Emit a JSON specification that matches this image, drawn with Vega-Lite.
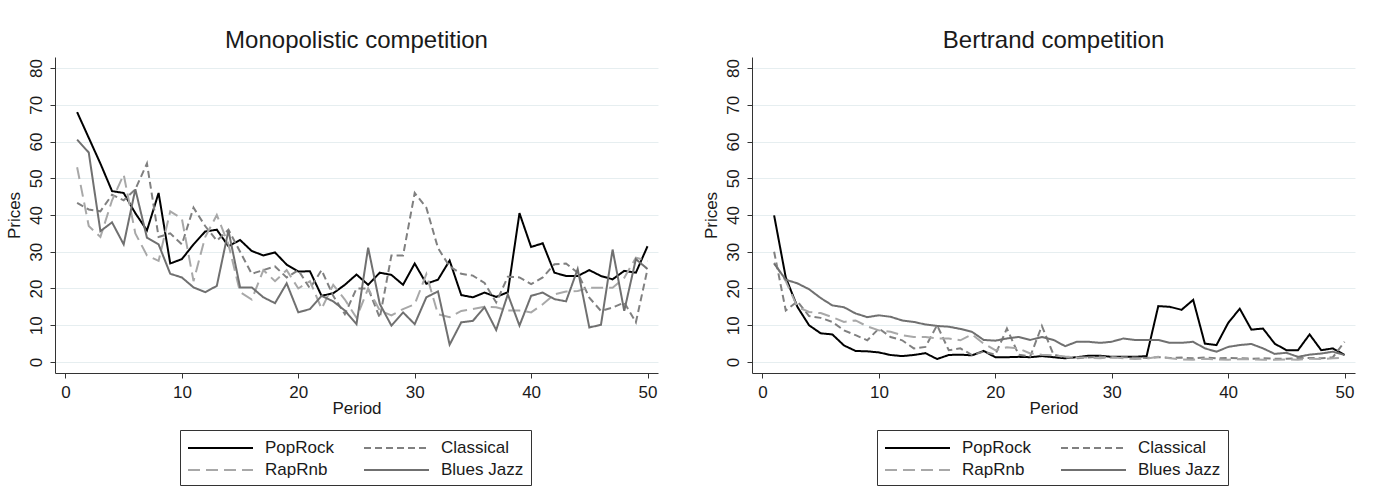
{
  "$schema": "https://vega.github.io/schema/vega-lite/v6.json",
  "background": "white",
  "padding": {"left": 5, "top": 29, "right": 5, "bottom": 5},
  "data": {"values": [
    {"m":"M","period":1,"PopRock":68,"Classical":43.3,"RapRnb":53,"Blues Jazz":60.5},
    {"m":"M","period":2,"PopRock":61,"Classical":41.5,"RapRnb":37,"Blues Jazz":57},
    {"m":"M","period":3,"PopRock":54,"Classical":41,"RapRnb":34,"Blues Jazz":35.6},
    {"m":"M","period":4,"PopRock":46.5,"Classical":45.5,"RapRnb":44,"Blues Jazz":38},
    {"m":"M","period":5,"PopRock":46,"Classical":44,"RapRnb":51,"Blues Jazz":32},
    {"m":"M","period":6,"PopRock":40.5,"Classical":47,"RapRnb":35,"Blues Jazz":47},
    {"m":"M","period":7,"PopRock":35.8,"Classical":54,"RapRnb":29,"Blues Jazz":33.8},
    {"m":"M","period":8,"PopRock":46,"Classical":34,"RapRnb":27.5,"Blues Jazz":32},
    {"m":"M","period":9,"PopRock":26.8,"Classical":35,"RapRnb":41,"Blues Jazz":24},
    {"m":"M","period":10,"PopRock":28,"Classical":32,"RapRnb":39,"Blues Jazz":23},
    {"m":"M","period":11,"PopRock":32,"Classical":42,"RapRnb":22,"Blues Jazz":20.3},
    {"m":"M","period":12,"PopRock":35.5,"Classical":37,"RapRnb":34,"Blues Jazz":19},
    {"m":"M","period":13,"PopRock":36,"Classical":33,"RapRnb":40,"Blues Jazz":20.7},
    {"m":"M","period":14,"PopRock":31.5,"Classical":36,"RapRnb":32,"Blues Jazz":35.8},
    {"m":"M","period":15,"PopRock":33.2,"Classical":30,"RapRnb":19,"Blues Jazz":20.3},
    {"m":"M","period":16,"PopRock":30.2,"Classical":24,"RapRnb":17,"Blues Jazz":20.3},
    {"m":"M","period":17,"PopRock":29,"Classical":25,"RapRnb":25,"Blues Jazz":17.6},
    {"m":"M","period":18,"PopRock":29.8,"Classical":26,"RapRnb":22,"Blues Jazz":16},
    {"m":"M","period":19,"PopRock":26.5,"Classical":23,"RapRnb":25,"Blues Jazz":21.4},
    {"m":"M","period":20,"PopRock":24.6,"Classical":25,"RapRnb":20,"Blues Jazz":13.5},
    {"m":"M","period":21,"PopRock":24.7,"Classical":20,"RapRnb":22,"Blues Jazz":14.4},
    {"m":"M","period":22,"PopRock":18,"Classical":25,"RapRnb":14.5,"Blues Jazz":18},
    {"m":"M","period":23,"PopRock":18.7,"Classical":18,"RapRnb":21,"Blues Jazz":16.5},
    {"m":"M","period":24,"PopRock":21,"Classical":13,"RapRnb":17,"Blues Jazz":14},
    {"m":"M","period":25,"PopRock":23.8,"Classical":20,"RapRnb":12,"Blues Jazz":10.3},
    {"m":"M","period":26,"PopRock":21,"Classical":20,"RapRnb":20,"Blues Jazz":31.1},
    {"m":"M","period":27,"PopRock":24.3,"Classical":12,"RapRnb":14,"Blues Jazz":15.8},
    {"m":"M","period":28,"PopRock":23.7,"Classical":29,"RapRnb":12.7,"Blues Jazz":9.9},
    {"m":"M","period":29,"PopRock":21,"Classical":29,"RapRnb":14.4,"Blues Jazz":13.5},
    {"m":"M","period":30,"PopRock":26.8,"Classical":46,"RapRnb":15.7,"Blues Jazz":10.3},
    {"m":"M","period":31,"PopRock":21.3,"Classical":42,"RapRnb":23.9,"Blues Jazz":17.6},
    {"m":"M","period":32,"PopRock":22.4,"Classical":31,"RapRnb":13,"Blues Jazz":19.2},
    {"m":"M","period":33,"PopRock":27.6,"Classical":26,"RapRnb":12.2,"Blues Jazz":4.7},
    {"m":"M","period":34,"PopRock":18.2,"Classical":24,"RapRnb":13.9,"Blues Jazz":10.8},
    {"m":"M","period":35,"PopRock":17.6,"Classical":23.5,"RapRnb":14.4,"Blues Jazz":11.2},
    {"m":"M","period":36,"PopRock":18.9,"Classical":21.5,"RapRnb":15,"Blues Jazz":14.9},
    {"m":"M","period":37,"PopRock":17.7,"Classical":16.2,"RapRnb":14.9,"Blues Jazz":8.7},
    {"m":"M","period":38,"PopRock":19,"Classical":23.2,"RapRnb":14,"Blues Jazz":18.4},
    {"m":"M","period":39,"PopRock":40.5,"Classical":23,"RapRnb":14,"Blues Jazz":9.9},
    {"m":"M","period":40,"PopRock":31.3,"Classical":21.2,"RapRnb":13.5,"Blues Jazz":18},
    {"m":"M","period":41,"PopRock":32.3,"Classical":23,"RapRnb":15.7,"Blues Jazz":18.9},
    {"m":"M","period":42,"PopRock":24.3,"Classical":26.6,"RapRnb":18.4,"Blues Jazz":17.1},
    {"m":"M","period":43,"PopRock":23.4,"Classical":26.8,"RapRnb":19.2,"Blues Jazz":16.5},
    {"m":"M","period":44,"PopRock":23.4,"Classical":24.3,"RapRnb":19.3,"Blues Jazz":25.3},
    {"m":"M","period":45,"PopRock":25,"Classical":17.5,"RapRnb":20.2,"Blues Jazz":9.4},
    {"m":"M","period":46,"PopRock":23.4,"Classical":13.9,"RapRnb":20.2,"Blues Jazz":10.1},
    {"m":"M","period":47,"PopRock":22.5,"Classical":14.8,"RapRnb":20.2,"Blues Jazz":30.6},
    {"m":"M","period":48,"PopRock":24.8,"Classical":16.2,"RapRnb":22.9,"Blues Jazz":13.9},
    {"m":"M","period":49,"PopRock":24.3,"Classical":10.8,"RapRnb":28.4,"Blues Jazz":28},
    {"m":"M","period":50,"PopRock":31.5,"Classical":25.3,"RapRnb":27.5,"Blues Jazz":25.3},
    {"m":"B","period":1,"PopRock":39.9,"Classical":30,"RapRnb":27,"Blues Jazz":26.8},
    {"m":"B","period":2,"PopRock":23,"Classical":14,"RapRnb":22,"Blues Jazz":22.4},
    {"m":"B","period":3,"PopRock":15,"Classical":16.5,"RapRnb":15,"Blues Jazz":21.4},
    {"m":"B","period":4,"PopRock":10,"Classical":12.5,"RapRnb":13.6,"Blues Jazz":19.8},
    {"m":"B","period":5,"PopRock":7.8,"Classical":12,"RapRnb":13.3,"Blues Jazz":17.4},
    {"m":"B","period":6,"PopRock":7.5,"Classical":10.9,"RapRnb":12.2,"Blues Jazz":15.4},
    {"m":"B","period":7,"PopRock":4.5,"Classical":8.6,"RapRnb":10.9,"Blues Jazz":14.9},
    {"m":"B","period":8,"PopRock":3,"Classical":7.3,"RapRnb":11.3,"Blues Jazz":13.2},
    {"m":"B","period":9,"PopRock":2.9,"Classical":5.9,"RapRnb":9.7,"Blues Jazz":12.2},
    {"m":"B","period":10,"PopRock":2.6,"Classical":9.1,"RapRnb":8.6,"Blues Jazz":12.7},
    {"m":"B","period":11,"PopRock":1.9,"Classical":6.8,"RapRnb":8.2,"Blues Jazz":12.3},
    {"m":"B","period":12,"PopRock":1.6,"Classical":5.9,"RapRnb":7.3,"Blues Jazz":11.3},
    {"m":"B","period":13,"PopRock":1.9,"Classical":3.7,"RapRnb":6.8,"Blues Jazz":10.9},
    {"m":"B","period":14,"PopRock":2.4,"Classical":4.1,"RapRnb":6.8,"Blues Jazz":10.2},
    {"m":"B","period":15,"PopRock":0.8,"Classical":10,"RapRnb":6.4,"Blues Jazz":9.8},
    {"m":"B","period":16,"PopRock":1.9,"Classical":3.2,"RapRnb":6.4,"Blues Jazz":9.6},
    {"m":"B","period":17,"PopRock":2,"Classical":3.7,"RapRnb":5.9,"Blues Jazz":9},
    {"m":"B","period":18,"PopRock":1.8,"Classical":1.9,"RapRnb":7.5,"Blues Jazz":8.2},
    {"m":"B","period":19,"PopRock":3,"Classical":2.8,"RapRnb":5,"Blues Jazz":6},
    {"m":"B","period":20,"PopRock":1.3,"Classical":2,"RapRnb":3.2,"Blues Jazz":5.8},
    {"m":"B","period":21,"PopRock":1.3,"Classical":9.1,"RapRnb":4,"Blues Jazz":6.4},
    {"m":"B","period":22,"PopRock":1.4,"Classical":2,"RapRnb":3.7,"Blues Jazz":6.8},
    {"m":"B","period":23,"PopRock":1.3,"Classical":1.5,"RapRnb":2.3,"Blues Jazz":6},
    {"m":"B","period":24,"PopRock":1.6,"Classical":9.8,"RapRnb":2,"Blues Jazz":6.8},
    {"m":"B","period":25,"PopRock":1.3,"Classical":2,"RapRnb":1.8,"Blues Jazz":6},
    {"m":"B","period":26,"PopRock":1,"Classical":1.2,"RapRnb":1.5,"Blues Jazz":4.3},
    {"m":"B","period":27,"PopRock":1.3,"Classical":1,"RapRnb":1.3,"Blues Jazz":5.5},
    {"m":"B","period":28,"PopRock":1.7,"Classical":1.2,"RapRnb":1.2,"Blues Jazz":5.5},
    {"m":"B","period":29,"PopRock":1.7,"Classical":1.5,"RapRnb":1,"Blues Jazz":5.2},
    {"m":"B","period":30,"PopRock":1.4,"Classical":1.2,"RapRnb":1.3,"Blues Jazz":5.5},
    {"m":"B","period":31,"PopRock":1.4,"Classical":1.3,"RapRnb":1,"Blues Jazz":6.4},
    {"m":"B","period":32,"PopRock":1.4,"Classical":1.2,"RapRnb":0.8,"Blues Jazz":6},
    {"m":"B","period":33,"PopRock":1.6,"Classical":1.1,"RapRnb":0.9,"Blues Jazz":6},
    {"m":"B","period":34,"PopRock":15.2,"Classical":1.3,"RapRnb":1.4,"Blues Jazz":6},
    {"m":"B","period":35,"PopRock":15,"Classical":1.1,"RapRnb":1,"Blues Jazz":5.2},
    {"m":"B","period":36,"PopRock":14.2,"Classical":1.2,"RapRnb":0.7,"Blues Jazz":5.2},
    {"m":"B","period":37,"PopRock":16.9,"Classical":1,"RapRnb":0.6,"Blues Jazz":5.5},
    {"m":"B","period":38,"PopRock":5,"Classical":1.2,"RapRnb":0.9,"Blues Jazz":3.7},
    {"m":"B","period":39,"PopRock":4.6,"Classical":1,"RapRnb":0.7,"Blues Jazz":2.8},
    {"m":"B","period":40,"PopRock":10.6,"Classical":1.1,"RapRnb":0.6,"Blues Jazz":4.1},
    {"m":"B","period":41,"PopRock":14.5,"Classical":1,"RapRnb":0.8,"Blues Jazz":4.6},
    {"m":"B","period":42,"PopRock":8.8,"Classical":0.9,"RapRnb":0.7,"Blues Jazz":4.9},
    {"m":"B","period":43,"PopRock":9.1,"Classical":1,"RapRnb":0.6,"Blues Jazz":3.7},
    {"m":"B","period":44,"PopRock":5,"Classical":0.9,"RapRnb":0.6,"Blues Jazz":2.2},
    {"m":"B","period":45,"PopRock":3.2,"Classical":0.9,"RapRnb":0.7,"Blues Jazz":2.5},
    {"m":"B","period":46,"PopRock":3.2,"Classical":1,"RapRnb":0.6,"Blues Jazz":1.4},
    {"m":"B","period":47,"PopRock":7.5,"Classical":1.1,"RapRnb":0.9,"Blues Jazz":2},
    {"m":"B","period":48,"PopRock":3.2,"Classical":1,"RapRnb":0.8,"Blues Jazz":2.3},
    {"m":"B","period":49,"PopRock":3.7,"Classical":1.3,"RapRnb":1,"Blues Jazz":2.8},
    {"m":"B","period":50,"PopRock":1.9,"Classical":5.5,"RapRnb":1.1,"Blues Jazz":1.9}
  ]},
  "transform": [{"fold": ["PopRock", "Classical", "RapRnb", "Blues Jazz"], "as": ["genre", "price"]}],
  "spacing": 44,
  "hconcat": [
    {
      "transform": [{"filter": "datum.m == 'M'"}],
      "title": "Monopolistic competition",
      "width": 603,
      "height": 316,
      "mark": {"type": "line", "strokeWidth": 2},
      "encoding": {
        "x": {"field": "period", "type": "quantitative", "scale": {"domain": [-0.9, 50.9], "nice": false, "zero": false}, "axis": {"values": [0, 10, 20, 30, 40, 50], "title": "Period", "grid": false}},
        "y": {"field": "price", "type": "quantitative", "scale": {"domain": [-3, 83], "nice": false}, "axis": {"values": [0, 10, 20, 30, 40, 50, 60, 70, 80], "title": "Prices"}},
        "color": {"field": "genre", "type": "nominal", "scale": {"domain": ["PopRock", "Classical", "RapRnb", "Blues Jazz"], "range": ["#000000", "#808080", "#a8a8a8", "#707070"]}, "legend": {"title": null}},
        "strokeDash": {"field": "genre", "type": "nominal", "scale": {"domain": ["PopRock", "Classical", "RapRnb", "Blues Jazz"], "range": [[1, 0], [7, 4], [12, 6], [1, 0]]}, "legend": {"title": null}}
      }
    },
    {
      "transform": [{"filter": "datum.m == 'B'"}],
      "title": "Bertrand competition",
      "width": 603,
      "height": 316,
      "mark": {"type": "line", "strokeWidth": 2},
      "encoding": {
        "x": {"field": "period", "type": "quantitative", "scale": {"domain": [-0.9, 50.9], "nice": false, "zero": false}, "axis": {"values": [0, 10, 20, 30, 40, 50], "title": "Period", "grid": false}},
        "y": {"field": "price", "type": "quantitative", "scale": {"domain": [-3, 83], "nice": false}, "axis": {"values": [0, 10, 20, 30, 40, 50, 60, 70, 80], "title": "Prices"}},
        "color": {"field": "genre", "type": "nominal", "scale": {"domain": ["PopRock", "Classical", "RapRnb", "Blues Jazz"], "range": ["#000000", "#808080", "#a8a8a8", "#707070"]}, "legend": {"title": null}},
        "strokeDash": {"field": "genre", "type": "nominal", "scale": {"domain": ["PopRock", "Classical", "RapRnb", "Blues Jazz"], "range": [[1, 0], [7, 4], [12, 6], [1, 0]]}, "legend": {"title": null}}
      }
    }
  ],
  "resolve": {"legend": {"color": "independent", "strokeDash": "independent"}, "scale": {"color": "independent", "strokeDash": "independent"}},
  "config": {
    "font": "Liberation Sans",
    "view": {"stroke": null},
    "title": {"fontSize": 24, "fontWeight": "normal", "color": "#1a1a1a", "offset": 4, "anchor": "middle", "font": "Liberation Sans"},
    "axis": {"domainColor": "#333333", "tickColor": "#333333", "tickSize": 5, "labelFontSize": 17, "titleFontSize": 17, "titleFontWeight": "normal", "labelColor": "#1a1a1a", "titleColor": "#1a1a1a", "gridColor": "#e6eef0", "gridWidth": 1, "labelFont": "Liberation Sans", "titleFont": "Liberation Sans"},
    "axisX": {"labelPadding": 6, "titlePadding": 0},
    "axisY": {"labelAngle": 270, "labelPadding": 5, "titlePadding": 4},
    "legend": {"orient": "none", "legendX": 125, "legendY": 373, "direction": "horizontal", "columns": 2, "symbolType": "M-1,0H5.5", "symbolSize": 400, "symbolStrokeWidth": 2, "labelFontSize": 17, "labelFont": "Liberation Sans", "labelColor": "#1a1a1a", "labelOffset": 56, "columnPadding": 26, "rowPadding": 3, "strokeColor": "#333333", "padding": 7}
  }
}
